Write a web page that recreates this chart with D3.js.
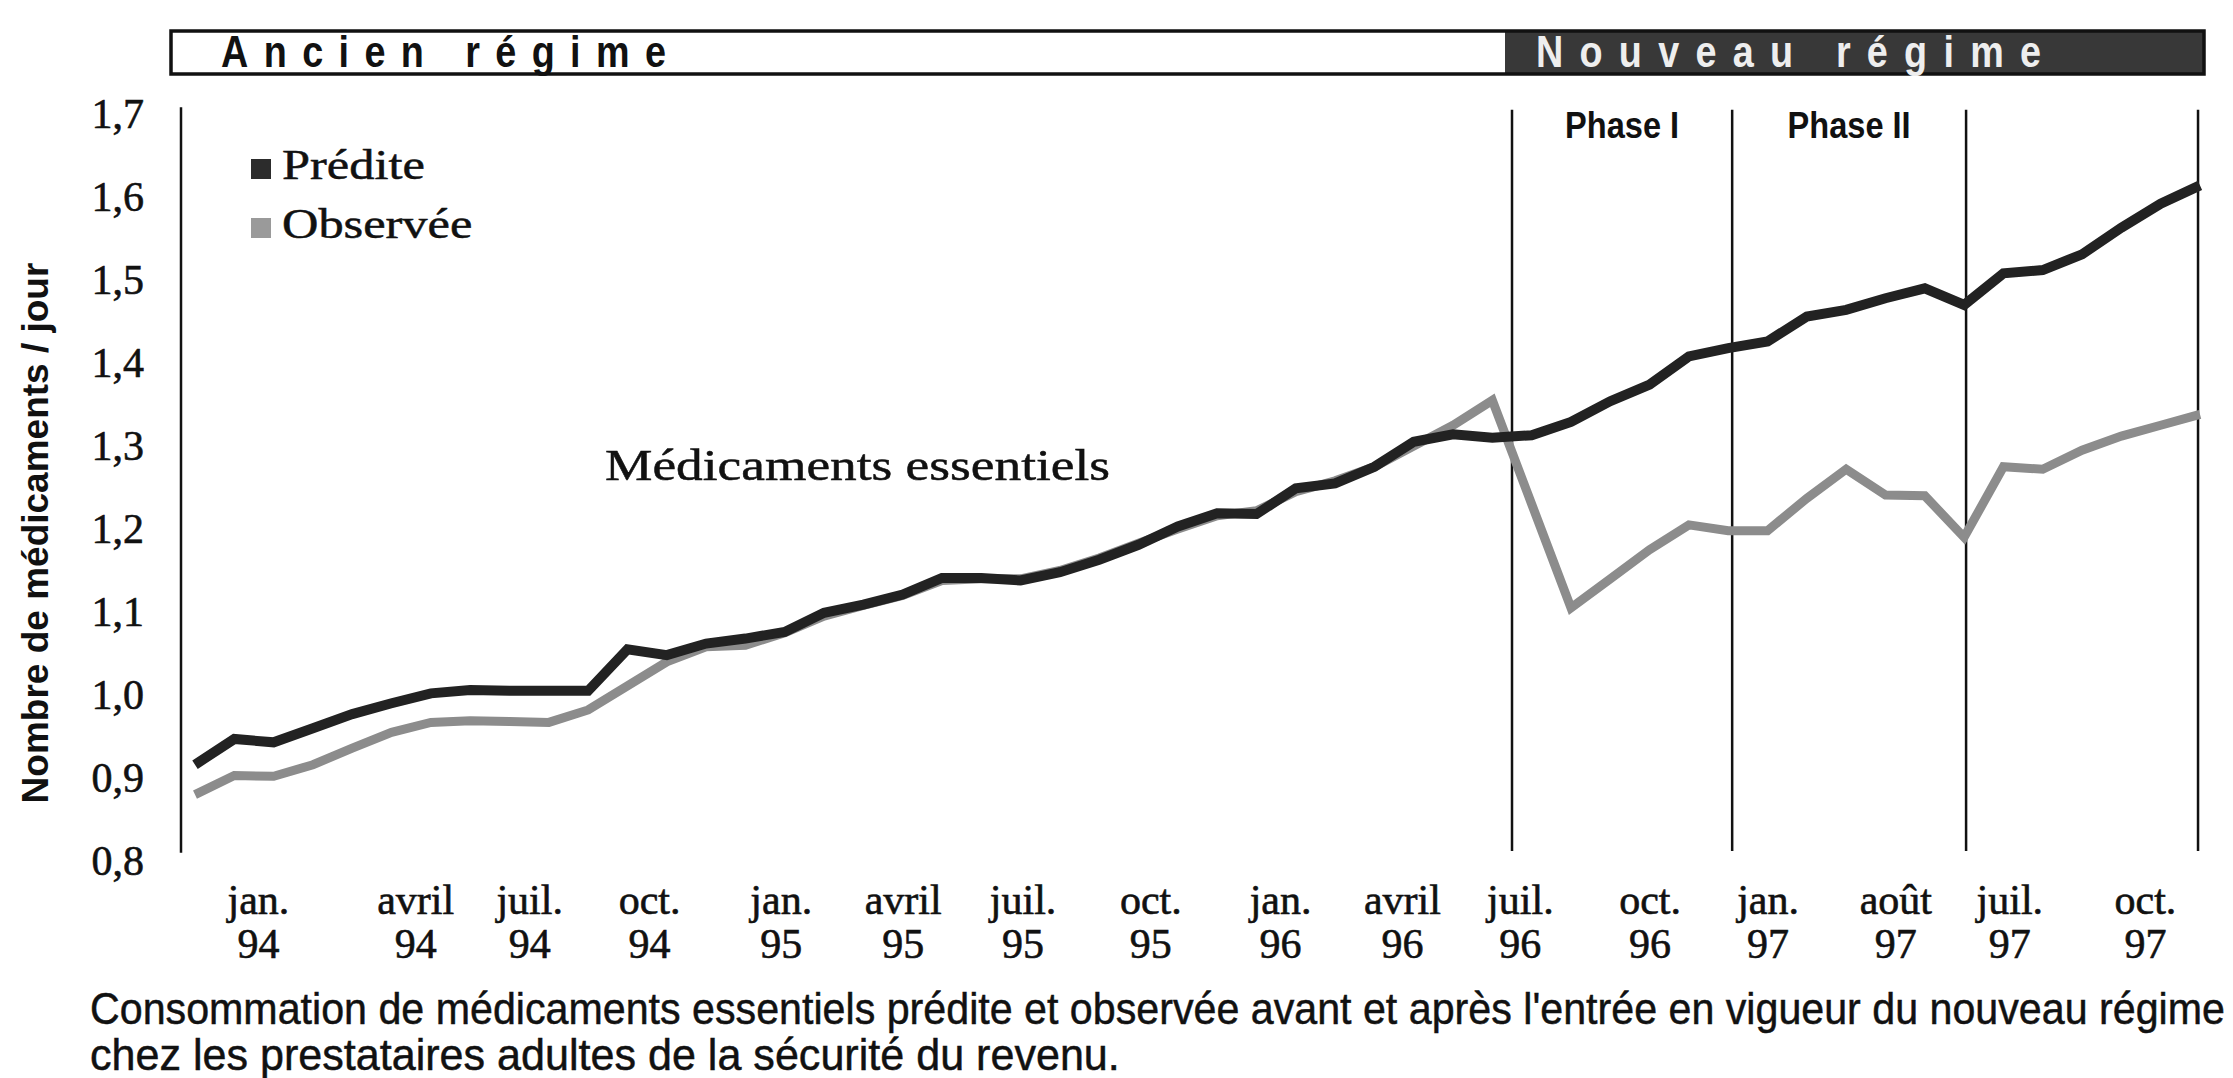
<!DOCTYPE html>
<html>
<head>
<meta charset="utf-8">
<script src="https://cdn.jsdelivr.net/npm/d3@7"></script>
<style>
  body { margin: 0; background: #fff; }
</style>
</head>
<body>
<div id="chart"></div>
<script>
// values, one point per 4-week period (jan. 94 -> déc. 97)
var predicted = [0.916, 0.947, 0.943, 0.960, 0.977, 0.990, 1.002, 1.006, 1.005, 1.005,
  1.005, 1.055, 1.048, 1.062, 1.068, 1.076, 1.099, 1.109, 1.121, 1.141,
  1.141, 1.138, 1.148, 1.163, 1.181, 1.203, 1.219, 1.218, 1.249, 1.255,
  1.275, 1.305, 1.314, 1.310, 1.313, 1.329, 1.354, 1.374, 1.408, 1.418,
  1.426, 1.456, 1.464, 1.478, 1.490, 1.470, 1.508, 1.512, 1.531, 1.563,
  1.592, 1.614];
var observed = [0.880, 0.903, 0.902, 0.916, 0.936, 0.955, 0.967, 0.969, 0.968, 0.967,
  0.982, 1.011, 1.040, 1.058, 1.060, 1.075, 1.095, 1.108, 1.120, 1.138,
  1.140, 1.140, 1.150, 1.165, 1.183, 1.200, 1.216, 1.222, 1.245, 1.258,
  1.275, 1.300, 1.325, 1.355, 1.230, 1.105, 1.140, 1.175, 1.205, 1.198,
  1.198, 1.237, 1.272, 1.241, 1.240, 1.190, 1.275, 1.272, 1.295, 1.312,
  1.325, 1.338];

var yTicks = [0.8, 0.9, 1.0, 1.1, 1.2, 1.3, 1.4, 1.5, 1.6, 1.7];

// x labels (where they sit, in periods) and their two lines
var tickPos = [1.6, 5.6, 8.5, 11.55, 14.9, 18.0, 21.05, 24.3, 27.6, 30.7, 33.7, 37.0, 40.0, 43.25, 46.15, 49.6];
var tickMonth = ["jan.", "avril", "juil.", "oct.", "jan.", "avril", "juil.", "oct.",
  "jan.", "avril", "juil.", "oct.", "jan.", "août", "juil.", "oct."];
var tickYear = ["94", "94", "94", "94", "95", "95", "95", "95",
  "96", "96", "96", "96", "97", "97", "97", "97"];

// vertical separators (in periods) and the phase names between them
var phaseLines = [33.5, 39.1, 45.05, 50.95];
var phaseNames = ["Phase I", "Phase II"];
var seriesNames = ["Prédite", "Observée"];

var W = 2233, H = 1078;
var serif = "'Liberation Serif', 'Times New Roman', serif";
var sans = "'Liberation Sans', Arial, sans-serif";
var darkCol = "#222", greyCol = "#8c8c8c";

var svg = d3.select("#chart")
  .append("svg")
    .attr("width", W)
    .attr("height", H)
    .style("background", "#fff");

var x = d3.scaleLinear()
  .domain([0, predicted.length - 1])
  .range([195, 2200]);

var y = d3.scaleLinear()
  .domain([0.8, 1.7])
  .range([861, 114]);

var axisX = 181;

// condensed look: squeeze a text horizontally inside its own group
function squeezed(px, py, sx) {
  var g = svg.append("g")
    .attr("transform", "translate(" + px + "," + py + ") scale(" + sx + ",1)");
  return g.append("text");
}
// spread letters so the squeezed text covers the target width
function spreadTo(sel, target, sx) {
  var n = sel.text().length;
  var w = sel.node().getComputedTextLength();
  sel.attr("letter-spacing", (target / sx - w) / (n - 1));
}
// squeeze a text so it covers exactly the target width
function fitTo(sel, target) {
  var w = sel.node().getComputedTextLength();
  var g = d3.select(sel.node().parentNode);
  g.attr("transform", g.attr("transform").replace(/scale\([^)]*\)/, "scale(" + (target / w) + ",1)"));
}

// header band : ancien / nouveau régime
var boxL = axisX - 10, boxR = x(predicted.length - 1) + 4;
svg.append("rect")
  .attr("x", x(phaseLines[0]) - 7).attr("y", 31)
  .attr("width", boxR - x(phaseLines[0]) + 7).attr("height", 43)
  .attr("fill", "#383838");
svg.append("rect")
  .attr("x", boxL).attr("y", 31)
  .attr("width", boxR - boxL).attr("height", 43)
  .attr("fill", "none").attr("stroke", "#111").attr("stroke-width", 3.5);

var ancien = squeezed(x(0) + 26, 67, 0.84)
  .style("font-family", sans).style("font-weight", "bold").style("font-size", "45px")
  .attr("fill", "#111")
  .text("Ancien régime");
spreadTo(ancien, 445, 0.84);

var nouveau = squeezed(x(phaseLines[0]) + 24, 67, 0.84)
  .style("font-family", sans).style("font-weight", "bold").style("font-size", "45px")
  .attr("fill", "#eee")
  .text("Nouveau régime");
spreadTo(nouveau, 505, 0.84);

// y axis
var yAxis = svg.append("g")
  .attr("transform", "translate(" + axisX + ",0)")
  .call(d3.axisLeft(y)
    .tickValues(yTicks)
    .tickSize(0)
    .tickPadding(37)
    .tickFormat(function(d) { return d3.format(".1f")(d).replace(".", ","); }));
yAxis.select(".domain").remove();
yAxis.selectAll("text")
  .style("font-family", serif).style("font-size", "42px")
  .attr("fill", "#111").attr("stroke", "#111").attr("stroke-width", 0.6);

svg.append("line")
  .attr("x1", axisX).attr("x2", axisX)
  .attr("y1", y(1.708)).attr("y2", y(0.81))
  .attr("stroke", "#111").attr("stroke-width", 2.5);

// phase separators
svg.selectAll(".phase")
  .data(phaseLines)
  .enter()
  .append("line")
    .attr("class", "phase")
    .attr("x1", function(d) { return x(d); })
    .attr("x2", function(d) { return x(d); })
    .attr("y1", y(1.705)).attr("y2", y(0.812))
    .attr("stroke", "#111").attr("stroke-width", 2.5);

svg.selectAll(".phaseName")
  .data(phaseNames)
  .enter()
  .append("g")
    .attr("transform", function(d, i) {
      return "translate(" + ((x(phaseLines[i]) + x(phaseLines[i + 1])) / 2) + ",138) scale(0.88,1)";
    })
  .append("text")
    .attr("text-anchor", "middle")
    .style("font-family", sans).style("font-weight", "bold").style("font-size", "37px")
    .attr("fill", "#111")
    .text(function(d) { return d; });

// x labels, two lines each
var xAxis = svg.append("g")
  .attr("transform", "translate(0," + 914 + ")")
  .call(d3.axisBottom(x)
    .tickValues(tickPos)
    .tickSize(0)
    .tickPadding(0)
    .tickFormat(""));
xAxis.select(".domain").remove();
xAxis.selectAll(".tick text").remove();
xAxis.selectAll(".tick").each(function(d, i) {
  var t = d3.select(this).append("text")
    .attr("text-anchor", "middle")
    .style("font-family", serif).style("font-size", "42px")
    .attr("fill", "#111").attr("stroke", "#111").attr("stroke-width", 0.6);
  t.append("tspan").attr("x", 0).attr("y", 0).text(tickMonth[i]);
  t.append("tspan").attr("x", 0).attr("y", 44).text(tickYear[i]);
});

// series
var line = d3.line()
  .x(function(d, i) { return x(i); })
  .y(function(d) { return y(d); });

svg.append("path")
  .datum(observed)
  .attr("fill", "none")
  .attr("stroke", greyCol)
  .attr("stroke-width", 9)
  .attr("stroke-linejoin", "miter")
  .attr("d", line);

svg.append("path")
  .datum(predicted)
  .attr("fill", "none")
  .attr("stroke", darkCol)
  .attr("stroke-width", 10)
  .attr("stroke-linejoin", "miter")
  .attr("d", line);

// legend
var legend = svg.selectAll(".legend")
  .data(seriesNames)
  .enter()
  .append("g")
    .attr("transform", function(d, i) { return "translate(251," + (159 + i * 59) + ")"; });
legend.append("rect")
  .attr("width", 20).attr("height", 20)
  .attr("fill", function(d, i) { return i === 0 ? "#2c2c2c" : "#9a9a9a"; });
legend.append("text")
  .attr("x", 31).attr("y", 20)
  .style("font-family", serif).style("font-size", "42px")
  .attr("fill", "#111").attr("stroke", "#111").attr("stroke-width", 0.5)
  .text(function(d) { return d; })
  .each(function() {
    var w = this.getComputedTextLength();
    d3.select(this).attr("textLength", w * 1.2).attr("lengthAdjust", "spacingAndGlyphs");
  });

svg.append("text")
  .attr("x", 605).attr("y", 480)
  .style("font-family", serif).style("font-size", "44px")
  .attr("fill", "#111").attr("stroke", "#111").attr("stroke-width", 0.5)
  .attr("textLength", 505).attr("lengthAdjust", "spacingAndGlyphs")
  .text("Médicaments essentiels");

// y title
svg.append("text")
  .attr("transform", "translate(48,533) rotate(-90)")
  .attr("text-anchor", "middle")
  .style("font-family", sans).style("font-weight", "bold").style("font-size", "37px")
  .attr("fill", "#111")
  .text("Nombre de médicaments / jour");

// caption, condensed, each line squeezed to its width in the picture
var captionLines = ["Consommation de médicaments essentiels prédite et observée avant et après l'entrée en vigueur du nouveau régime",
  "chez les prestataires adultes de la sécurité du revenu."];
var captionWidths = [2136, 1030];
captionLines.forEach(function(s, i) {
  var t = squeezed(90, 1024 + i * 46, 1)
    .style("font-family", sans).style("font-size", "45px")
    .attr("fill", "#111").attr("stroke", "#111").attr("stroke-width", 0.5)
    .text(s);
  fitTo(t, captionWidths[i]);
});
</script>
</body>
</html>
